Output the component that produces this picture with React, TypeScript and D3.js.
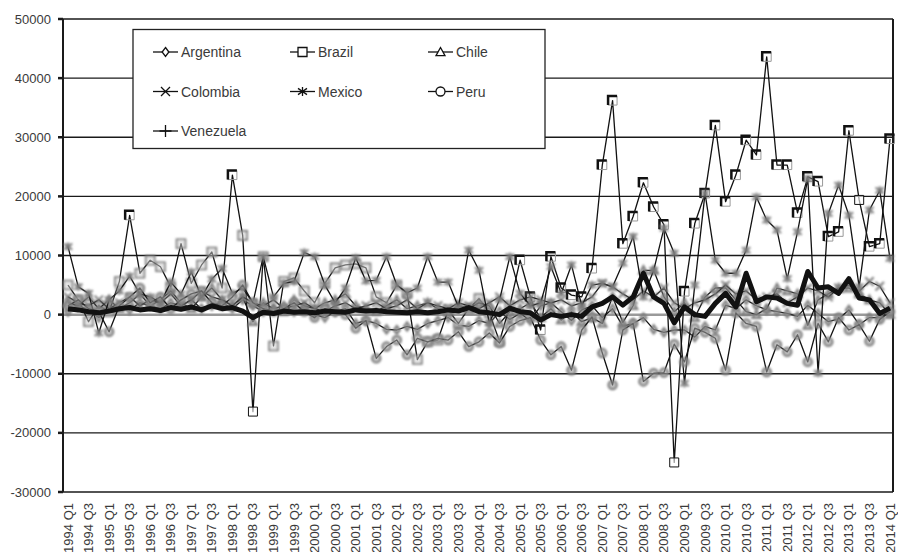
import React from 'react';
import * as d3 from 'd3';

const years = d3.range(1994, 2015);
const quarters: string[] = [];
years.forEach(y => [1, 2, 3, 4].forEach(q => { if (quarters.length < 81) quarters.push(`${y} Q${q}`); }));

const yTicks = [-30000, -20000, -10000, 0, 10000, 20000, 30000, 40000, 50000];

const argentina = [500, 1500, 800, -500, 1000, 1500, 800, 2000, 1500, 1000,
  2000, 1500, 2500, 1000, 1500, 2000, 1000, 2500, 1500, 500,
  1000, 1500, 500, 1000, 0, -500, 500, 1000, -1500, -1000,
  -1500, -2500, -2600, -2000, -2500, -1500, -1000, -500, -1800, -2000,
  -1000, -1500, 500, -800, 200, -1000, 1500, 2000, 500, -1000,
  800, 1500, -500, 1000, -2000, -1500, -500, -2500, -3000, -2600,
  -2600, -3800, -2000, -2600, 1600, 1000, 2500, 1500, 800, 500,
  200, -300, 1600, 200, -1200, -700, 800, -1700, -500, -500, 500];
const brazil = [5000, 2500, -1200, 1500, 500, 5600, 16800, 7000, 9200, 8100,
  4700, 12000, 5300, 8400, 10600, 4500, 23600, 13400, -16400, 9800,
  -5300, 5600, 6200, 4000, 2000, 5300, 7900, 8400, 8600, 7900,
  3000, 2000, 5000, 3600, -7600, -4600, -4300, 800, -1500, 1000,
  2700, 300, -4500, 1500, 9200, 3000, -2600, 9800, 4500, 3300,
  3000, 7800, 25300, 36200, 12000, 16600, 22300, 18200, 15200, -25000,
  3900, 15400, 20500, 32000, 19100, 23600, 29500, 27000, 43600, 25300,
  25300, 17200, 23300, 22500, 13200, 14000, 31100, 19400, 11500, 12000, 29700];
const chile = [2000, 1500, 3000, 1000, 2500, 1000, 2000, 3500, 1500, 2500,
  4000, 2000, 1000, 3000, 4500, 2500, 1500, 3000, -1200, 2000,
  1000, 500, 2500, 1500, 1000, 2000, 2500, 3500, 1500, 1000,
  500, 1500, 2500, 1000, 1500, 2000, 1000, 500, 1500, 1000,
  2000, 1500, -1500, 500, 1000, 2000, -500, 1000, -900, 500,
  -1200, -500, -1500, 3000, -1300, 1500, 7500, 7500, 3000, 500,
  2000, -500, 3000, 4500, 4500, 2500, 500, 0, 1000, 4500,
  4000, 3500, -1800, 2500, 3500, 4500, 4500, 3500, 2500, 2000, 0];
const colombia = [3000, 2000, 1500, 2500, 1000, 2000, 3000, 1500, 2500, 2000,
  3500, 1500, 2500, 4000, 3000, 2500, 1500, 3000, 2000, 1500,
  2500, 1000, 1500, 2000, 1000, 500, 1500, 2000, 1000, 1500,
  2000, 1000, 1500, 2500, 1000, 2000, 1500, 1000, 2000, 1500,
  1000, 2000, 3000, 1500, 2500, 3000, 2500, 2000, 2500, 1500,
  2000, 3000, 5300, 4700, 3500, 2500, 4000, 3000, 4500, 2000,
  1000, 2000, 2500, 3500, 5000, 3500, 4000, 2500, 3000, 3500,
  2000, 3000, 4500, 4000, 3000, 4500, 5000, 4000, 5600, 4800, 2000];
const mexico = [11500, 4700, 3600, -3100, 2500, 4000, 6500, 3500, 3000, 2000,
  5500, 3500, 7200, 3000, 6000, 7800, 3600, 4500, 2000, 9800,
  3000, 5300, 5600, 10500, 9800, 5000, 2000, 4500, 9600, 5700,
  5800, 9800, 5000, 3700, 4500, 9800, 5500, 5500, 1300, 10900,
  7500, -1400, 2500, 9800, 3600, 1500, 2000, 8100, 3600, 8400,
  1500, 5000, 5300, 4700, 8700, 13200, 3000, 7500, 14600, 10400,
  -11600, 5000, 20500, 9200, 7000, 7000, 10900, 19900, 16000, 14300,
  6100, 14000, 23000, -9900, 17100, 21900, 16800, 4700, 17700, 21000, 9500];
const peru = [1500, 2500, 1000, 500, -2900, 1500, 3000, 4500, 2000, 3000,
  1000, 2500, 3500, 4000, 2000, 1500, 3000, 5000, 2000, 1000,
  500, 1000, 2000, 500, -500, 1000, 500, 0, -2300, -1000,
  -7400, -5400, -4300, -6800, -4000, -4600, -4000, -4300, -2900, -5400,
  -4600, -3100, -4800, -2000, -1000, -500, -4300, -6800, -5400, -9400,
  -2600, -400, -6500, -11900, -2600, -1500, -11300, -9900, -9800, -5000,
  -8000, -2300, -3000, -4000, -9400, 300, -1500, -2000, -9700, -5100,
  -6300, -3400, -8000, -1500, -4600, -500, -2600, -1700, -4500, -800, 500];
const venezuela = [1000, 800, 500, 300, 600, 1000, 1200, 800, 1000, 700,
  1200, 900, 1300, 800, 1500, 1000, 1200, 600, -500, 400,
  200, 600, 400, 500, 300, 600, 500, 400, 800, 600,
  700, 500, 400, 300, 500, 300, 500, 800, 600, 1200,
  500, 300, 0, 1100, 500, 300, -900, 0, -300, 0,
  -300, 1300, 1900, 3000, 1600, 3000, 7000, 3000, 1900, -1400,
  1300, 0, -300, 1900, 3600, 1300, 7000, 2200, 3000, 2800,
  1900, 1600, 7300, 4500, 4700, 3600, 6100, 2800, 2500, 200, 1100];

const seriesNames = ['Argentina', 'Brazil', 'Chile', 'Colombia', 'Mexico', 'Peru', 'Venezuela'];
const seriesValues = [argentina, brazil, chile, colombia, mexico, peru, venezuela];
const markerKinds = ['diamond', 'square', 'triangle', 'x', 'asterisk', 'circle', 'plus'];

const W = 898, H = 552;
const L = 63, R = 893, T = 19, B = 492;

const markerPath = (kind: string, s: number): string => {
  switch (kind) {
    case 'diamond': return `M0,${-s}L${s * 0.75},0L0,${s}L${-s * 0.75},0Z`;
    case 'square': return `M${-s},${-s}H${s}V${s}H${-s}Z`;
    case 'triangle': return `M0,${-s}L${s},${s * 0.8}H${-s}Z`;
    case 'x': return `M${-s},${-s}L${s},${s}M${s},${-s}L${-s},${s}`;
    case 'asterisk': return `M${-s},${-s * 0.7}L${s},${s * 0.7}M${s},${-s * 0.7}L${-s},${s * 0.7}M0,${-s}V${s}`;
    case 'circle': return `M${-s},0A${s},${s} 0 1,0 ${s},0A${s},${s} 0 1,0 ${-s},0`;
    case 'plus': return `M${-s},0H${s}M0,${-s}V${s}`;
    default: return '';
  }
};
const closed = (k: string) => ['diamond', 'square', 'triangle', 'circle'].includes(k);

export default function App() {
  const x = d3.scalePoint<string>().domain(quarters).range([68, 890]);
  const y = d3.scaleLinear().domain([-30000, 50000]).range([B, T]);
  const line = d3.line<number>().x((_, i) => x(quarters[i]) as number).y(v => y(v));
  const font = 'Arial, "Liberation Sans", Helvetica, sans-serif';

  return (
    <svg width={W} height={H} style={{ position: 'absolute', left: 0, top: 0, background: '#fff' }} fontFamily={font}>
      <defs>
        <filter id="soft" x="-50%" y="-50%" width="200%" height="200%">
          <feGaussianBlur stdDeviation="0.8" />
        </filter>
      </defs>
      <rect x={0} y={0} width={W} height={H} fill="#fff" />
      {yTicks.map(t => (
        <g key={t}>
          <line x1={L} x2={R} y1={y(t)} y2={y(t)} stroke="#1a1a1a" strokeWidth={1.4} />
          <line x1={58} x2={L} y1={y(t)} y2={y(t)} stroke="#1a1a1a" strokeWidth={2.5} />
          <text x={51} y={y(t)} textAnchor="end" dominantBaseline="central" fontSize={13} fill="#3a3a3a">{t}</text>
        </g>
      ))}
      <line x1={L} x2={R} y1={y(0)} y2={y(0)} stroke="#9a9a9a" strokeWidth={2.5} />
      <line x1={L} x2={L} y1={T} y2={B} stroke="#1a1a1a" strokeWidth={2} />
      <line x1={R} x2={R} y1={T} y2={B} stroke="#1a1a1a" strokeWidth={2} />
      {quarters.map((q, i) => i % 2 === 0 ? (
        <text key={q} transform={`translate(${x(q)},503) rotate(-90)`} textAnchor="end" dominantBaseline="central" fontSize={13} fill="#3a3a3a">{q}</text>
      ) : null)}

      {seriesValues.map((vals, si) => {
        const kind = markerKinds[si];
        const isVen = seriesNames[si] === 'Venezuela';
        const isBra = seriesNames[si] === 'Brazil';
        return (
          <g key={seriesNames[si]}>
            <path d={line(vals) || ''} fill="none" stroke="#111" strokeWidth={isVen ? 5 : 1.3} strokeLinejoin="round" />
            {!isVen && !isBra && vals.map((v, i) => {
              const cx = x(quarters[i]) as number, cy = y(v);
              return <path key={'m' + i} transform={`translate(${cx},${cy})`} d={markerPath(kind, 4.2)} fill={closed(kind) ? '#999' : 'none'} fillOpacity={0.6} stroke="#7a7a7a" strokeWidth={2} filter="url(#soft)" />;
            })}
            {isBra && vals.map((v, i) => {
              const cx = x(quarters[i]) as number, cy = y(v);
              const bracket = i >= 44 || Math.abs(v) > 15000;
              const open = v < -15000 || i === 77;
              if (open) return <path key={i} transform={`translate(${cx},${cy})`} d={markerPath('square', 4.5)} fill="#fff" fillOpacity={0.6} stroke="#111" strokeWidth={1} />;
              if (bracket) return (
                <g key={i} transform={`translate(${cx},${cy})`}>
                  <path d={markerPath('square', 4.5)} fill="none" stroke="#999" strokeWidth={1} />
                  <path d="M-4.5,4.5V-4.5H4.5" fill="none" stroke="#111" strokeWidth={2.5} />
                </g>
              );
              return <path key={i} transform={`translate(${cx},${cy})`} d={markerPath('square', 4.5)} fill="#ccc" fillOpacity={0.5} stroke="#777" strokeWidth={1.6} filter="url(#soft)" />;
            })}
          </g>
        );
      })}

      <rect x={133} y={29.5} width={412} height={119} fill="#fff" stroke="#222" strokeWidth={1.3} />
      {seriesNames.map((n, i) => {
        const col = i % 3, row = Math.floor(i / 3);
        const lx = [153, 290, 428][col];
        const ly = [52, 91.5, 131][row];
        const kind = markerKinds[i];
        return (
          <g key={n}>
            <line x1={lx} x2={lx + 25} y1={ly} y2={ly} stroke="#111" strokeWidth={1.3} />
            <path transform={`translate(${lx + 12.5},${ly})`} d={markerPath(kind, kind === 'plus' ? 6 : 4.5)} fill={closed(kind) ? '#fff' : 'none'} stroke="#111" strokeWidth={1.3} />
            <text x={lx + 28} y={ly} dominantBaseline="central" fontSize={14} fill="#3a3a3a">{n}</text>
          </g>
        );
      })}
    </svg>
  );
}
